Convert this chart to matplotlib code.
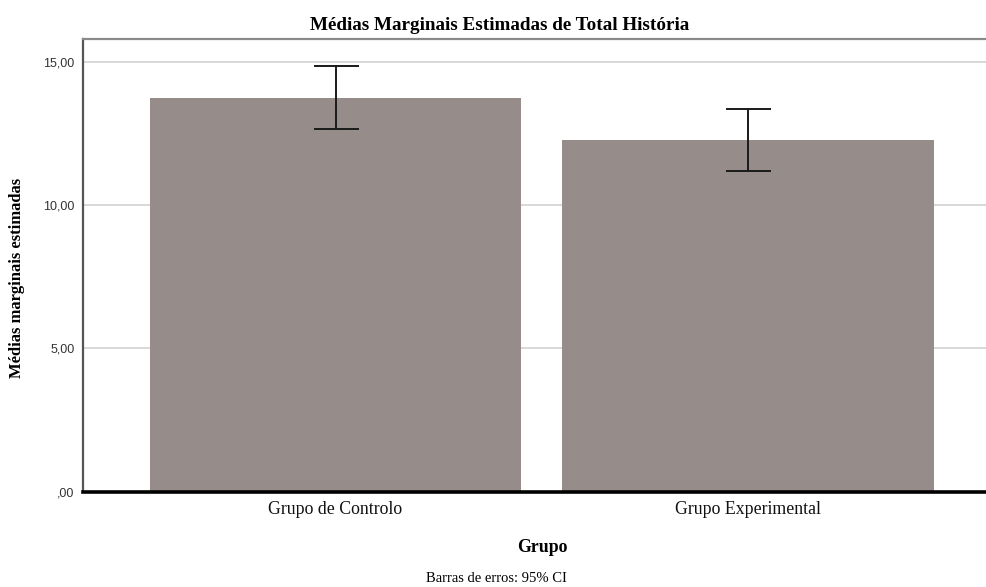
"""SPSS-style estimated marginal means bar chart."""
import matplotlib
matplotlib.use("Agg")
import matplotlib.pyplot as plt
import numpy as np

groups = ["Grupo de Controlo", "Grupo Experimental"]
means = [13.74, 12.28]
ci_low = [12.65, 11.20]
ci_high = [14.86, 13.36]
yticks = [0, 5, 10, 15]
ytick_labels = [",00", "5,00", "10,00", "15,00"]

BAR_COLOR = "#968d8b"
SERIF = "Liberation Serif"
SANS = "Liberation Sans"

fig = plt.figure(figsize=(9.87, 5.87), dpi=100)
ax = fig.add_axes([83 / 987, 1 - 491.7 / 587, 1 - 83 / 987, (491.7 - 39.3) / 587])

x = np.arange(len(groups))
means = np.array(means)
yerr = np.array([means - np.array(ci_low), np.array(ci_high) - means])

ax.bar(x, means, width=0.9, color=BAR_COLOR, zorder=2)
ax.errorbar(x, means, yerr=yerr, fmt="none", ecolor="#1a1a1a",
            elinewidth=1.4, capsize=16.2, capthick=1.4, zorder=3)

ax.set_xlim(-0.612, 1.579)
ax.set_ylim(0, 15.78)

ax.set_yticks(yticks)
ax.set_yticklabels(ytick_labels, fontfamily=SANS, fontsize=9, color="#333333")
ax.set_xticks(x)
ax.set_xticklabels(groups, fontfamily=SERIF, fontsize=12.8, color="#111111")
ax.tick_params(axis="y", length=0, pad=6)
ax.tick_params(axis="x", length=0, pad=7)

ax.grid(True, axis="y", color="#d6d6d6", linewidth=1.3, zorder=0)
ax.set_axisbelow(True)

ax.spines["right"].set_visible(False)
ax.spines["top"].set_color("#8a8a8a")
ax.spines["top"].set_linewidth(1.6)
ax.spines["left"].set_color("#555555")
ax.spines["left"].set_linewidth(1.6)
ax.spines["bottom"].set_color("black")
ax.spines["bottom"].set_linewidth(2.6)
ax.spines["bottom"].set_zorder(4)

fig.text(500 / 987, 1 - 25 / 587, "Médias Marginais Estimadas de Total História",
         ha="center", va="center", fontfamily=SERIF, fontweight="bold", fontsize=13.8)
fig.text(17 / 987, 1 - 278 / 587, "Médias marginais estimadas", rotation=90,
         ha="center", va="center", fontfamily=SERIF, fontweight="bold", fontsize=12)
fig.text(542 / 987, 1 - 547 / 587, "Grupo", ha="center", va="center",
         fontfamily=SERIF, fontweight="bold", fontsize=12.8)
fig.text(496 / 987, 1 - 578 / 587, "Barras de erros: 95% CI", ha="center", va="center",
         fontfamily=SERIF, fontsize=10.5)

fig.savefig("out.png", dpi=100)
